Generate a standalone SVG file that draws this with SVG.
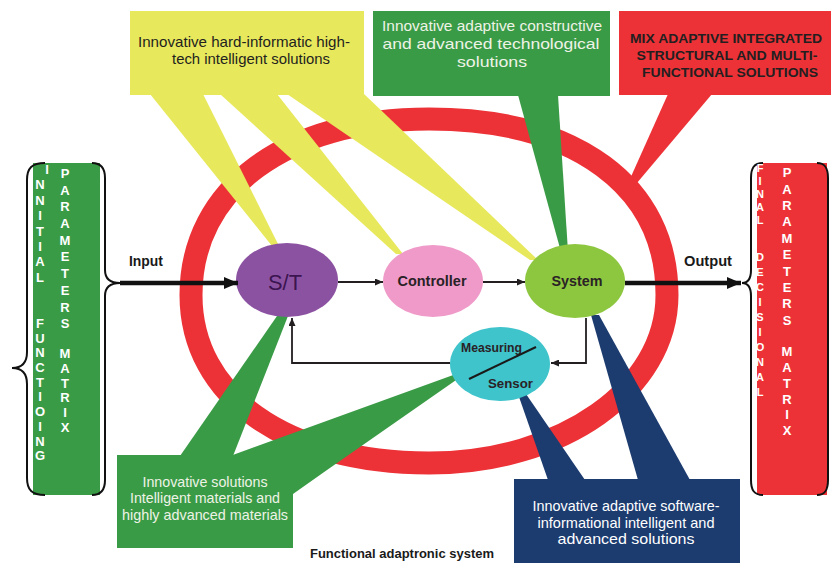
<svg xmlns="http://www.w3.org/2000/svg" width="831" height="563" viewBox="0 0 831 563">
  <defs>
    <style>
      text { font-family: "Liberation Sans", Arial, sans-serif; }
      .ring { fill: none; stroke: #ed3237; stroke-width: 23; }
      .yellow { fill: #e8e85c; }
      .green { fill: #3a9b46; }
      .red { fill: #ed3237; }
      .navy { fill: #1c3b6f; }
      .dark { fill: #231f20; }
      .light { fill: #eef3e6; }
      .white { fill: #ffffff; }
      .callout { font-size: 15px; }
      .caps { font-size: 13px; font-weight: bold; }
      .node { font-size: 15px; font-weight: bold; fill: #2a2226; }
      .wire { fill: none; stroke: #231f20; stroke-width: 1.8; }
      .thick { fill: none; stroke: #111111; stroke-width: 4.5; }
      .brace { fill: none; stroke: #111111; stroke-width: 2; }
      .col { font-size: 13px; font-weight: bold; fill: #ffffff; text-anchor: middle; }
      .colsm { font-size: 11px; font-weight: bold; fill: #ffffff; text-anchor: middle; }
    </style>
    <marker id="arrow" viewBox="0 0 8 7" refX="8" refY="3.5" markerWidth="8" markerHeight="7" markerUnits="userSpaceOnUse" orient="auto">
      <path d="M0,0 L8,3.5 L0,7 z" fill="#231f20"/>
    </marker>
    <marker id="arrowBig" viewBox="0 0 14 12" refX="14" refY="6" markerWidth="14" markerHeight="12" markerUnits="userSpaceOnUse" orient="auto">
      <path d="M0,0 L14,6 L0,12 z" fill="#111111"/>
    </marker>
  </defs>

  <rect width="831" height="563" fill="#ffffff"/>

  <!-- outer red ring of the adaptronic system -->
  <path id="ring" class="ring" d="M429,119 C576,119 667,186 667,295 C667,389 562,463 429,463 C286,463 191,396 191,295 C191,189 286,119 429,119 Z"/>

  <!-- callout: hard-informatic solutions (yellow, three pointers) -->
  <g id="callout-hard">
    <rect class="yellow" x="130" y="11" width="234" height="84"/>
    <polygon class="yellow" points="150,94 203,94 279,246 272,246"/>
    <polygon class="yellow" points="220,94 277,94 403,254 396,254"/>
    <polygon class="yellow" points="287,94 364,94 538,260 530,260"/>
    <text class="callout dark" text-anchor="middle" x="244" y="47" textLength="212" lengthAdjust="spacingAndGlyphs">Innovative hard-informatic high-</text>
    <text class="callout dark" text-anchor="middle" x="251" y="64" textLength="158" lengthAdjust="spacingAndGlyphs">tech intelligent solutions</text>
  </g>

  <!-- callout: constructive / technological solutions (green, top) -->
  <g id="callout-constructive">
    <rect class="green" x="373" y="11" width="237" height="85"/>
    <polygon class="green" points="518,95 558,95 568,252 561,252"/>
    <text class="callout light" text-anchor="middle" x="492" y="31" textLength="220" lengthAdjust="spacingAndGlyphs">Innovative adaptive constructive</text>
    <text class="callout light" text-anchor="middle" x="491" y="49" textLength="217" lengthAdjust="spacingAndGlyphs">and advanced technological</text>
    <text class="callout light" text-anchor="middle" x="492" y="67" textLength="70" lengthAdjust="spacingAndGlyphs">solutions</text>
  </g>

  <!-- callout: mixed integrated solutions (red, top right) -->
  <g id="callout-mix">
    <rect class="red" x="619" y="11" width="212" height="84"/>
    <polygon class="red" points="668,94 712,94 631,190 625,190"/>
    <text class="caps dark" text-anchor="middle" x="726" y="43" textLength="192" lengthAdjust="spacingAndGlyphs">MIX ADAPTIVE INTEGRATED</text>
    <text class="caps dark" text-anchor="middle" x="727" y="60" textLength="181" lengthAdjust="spacingAndGlyphs">STRUCTURAL AND MULTI-</text>
    <text class="caps dark" text-anchor="middle" x="730" y="77" textLength="176" lengthAdjust="spacingAndGlyphs">FUNCTIONAL SOLUTIONS</text>
  </g>

  <!-- callout: intelligent materials (green, bottom left) -->
  <g id="callout-materials">
    <rect class="green" x="117" y="455" width="176" height="93"/>
    <polygon class="green" points="180,456 277,316 288,316 233,456"/>
    <polygon class="green" points="230,456 456,374 459,378 327,470 293,494 293,456"/>
    <text class="callout light" text-anchor="middle" x="205" y="487" textLength="125" lengthAdjust="spacingAndGlyphs">Innovative solutions</text>
    <text class="callout light" text-anchor="middle" x="205" y="503" textLength="150" lengthAdjust="spacingAndGlyphs">Intelligent materials and</text>
    <text class="callout light" text-anchor="middle" x="205" y="520" textLength="166" lengthAdjust="spacingAndGlyphs">highly advanced materials</text>
  </g>

  <!-- callout: software-informational solutions (navy, bottom right) -->
  <g id="callout-software">
    <rect class="navy" x="514" y="479" width="226" height="84"/>
    <polygon class="navy" points="518,394 526,394 585,480 548,480"/>
    <polygon class="navy" points="591,315 599,315 690,480 638,480"/>
    <text class="callout white" text-anchor="middle" x="626" y="511" textLength="187" lengthAdjust="spacingAndGlyphs">Innovative adaptive software-</text>
    <text class="callout white" text-anchor="middle" x="626" y="528" textLength="177" lengthAdjust="spacingAndGlyphs">informational intelligent and</text>
    <text class="callout white" text-anchor="middle" x="626" y="544" textLength="137" lengthAdjust="spacingAndGlyphs">advanced solutions</text>
  </g>

  <!-- input parameters matrix -->
  <g id="matrix-input">
    <rect class="green" x="33" y="163" width="67" height="332"/>
    <path class="brace" d="M45,163 C32,163 27,168 27,180 L27,352 C27,362 22,368 12,368 C22,368 27,374 27,384 L27,478 C27,490 32,495 45,495"/>
    <path class="brace" d="M92,163 C101,163 105,168 105,178 L105,270 C105,278 110,283 120,283 C110,283 105,288 105,296 L105,480 C105,490 101,495 92,495"/>
    <text class="col"><tspan x="47" y="174">I</tspan><tspan x="40" y="189">N</tspan><tspan x="40" y="205">N</tspan><tspan x="40" y="220">I</tspan><tspan x="40" y="236">T</tspan><tspan x="40" y="251">I</tspan><tspan x="40" y="266">A</tspan><tspan x="40" y="282">L</tspan><tspan x="40" y="328">F</tspan><tspan x="40" y="343">U</tspan><tspan x="40" y="357">N</tspan><tspan x="40" y="372">C</tspan><tspan x="40" y="387">T</tspan><tspan x="40" y="401">I</tspan><tspan x="40" y="416">O</tspan><tspan x="40" y="431">I</tspan><tspan x="40" y="446">N</tspan><tspan x="40" y="460">G</tspan></text>
    <text class="col"><tspan x="65" y="178">P</tspan><tspan x="65" y="195">A</tspan><tspan x="65" y="211">R</tspan><tspan x="65" y="228">A</tspan><tspan x="65" y="245">M</tspan><tspan x="65" y="261">E</tspan><tspan x="65" y="278">T</tspan><tspan x="65" y="295">E</tspan><tspan x="65" y="312">R</tspan><tspan x="65" y="328">S</tspan><tspan x="65" y="358">M</tspan><tspan x="65" y="373">A</tspan><tspan x="65" y="388">T</tspan><tspan x="65" y="402">R</tspan><tspan x="65" y="417">I</tspan><tspan x="65" y="432">X</tspan></text>
  </g>

  <!-- output parameters matrix -->
  <g id="matrix-output">
    <rect class="red" x="757" y="163" width="70" height="332"/>
    <path class="brace" d="M763,163 C754,163 751,168 751,178 L751,270 C751,278 748,283 742,283 C748,283 751,288 751,296 L751,480 C751,490 754,495 763,495"/>
    <path class="brace" d="M817,163 C825,163 828,168 828,178 L828,480 C828,490 825,495 817,495"/>
    <text class="colsm"><tspan x="760" y="172">F</tspan><tspan x="760" y="185">I</tspan><tspan x="760" y="198">N</tspan><tspan x="760" y="211">A</tspan><tspan x="760" y="224">L</tspan><tspan x="760" y="261">D</tspan><tspan x="760" y="276">E</tspan><tspan x="760" y="291">C</tspan><tspan x="760" y="306">I</tspan><tspan x="760" y="321">S</tspan><tspan x="760" y="336">I</tspan><tspan x="760" y="351">O</tspan><tspan x="760" y="366">N</tspan><tspan x="760" y="381">A</tspan><tspan x="760" y="396">L</tspan></text>
    <text class="col"><tspan x="787" y="177">P</tspan><tspan x="787" y="194">A</tspan><tspan x="787" y="210">R</tspan><tspan x="787" y="226">A</tspan><tspan x="787" y="243">M</tspan><tspan x="787" y="259">E</tspan><tspan x="787" y="276">T</tspan><tspan x="787" y="292">E</tspan><tspan x="787" y="308">R</tspan><tspan x="787" y="325">S</tspan><tspan x="787" y="356">M</tspan><tspan x="787" y="372">A</tspan><tspan x="787" y="388">T</tspan><tspan x="787" y="404">R</tspan><tspan x="787" y="419">I</tspan><tspan x="787" y="435">X</tspan></text>
  </g>

  <!-- process nodes -->
  <g id="node-st">
    <ellipse cx="287" cy="280" rx="51" ry="37" fill="#8c52a2"/>
    <text x="285" y="290" font-size="22" text-anchor="middle" fill="#3b1450" textLength="34" lengthAdjust="spacingAndGlyphs">S/T</text>
  </g>
  <g id="node-controller">
    <ellipse cx="433" cy="281" rx="50" ry="36" fill="#ef9ac8"/>
    <text class="node" x="432" y="286" text-anchor="middle" textLength="69" lengthAdjust="spacingAndGlyphs">Controller</text>
  </g>
  <g id="node-system">
    <ellipse cx="575" cy="281" rx="50" ry="37" fill="#8dc63f"/>
    <text class="node" x="577" y="286" text-anchor="middle" textLength="51" lengthAdjust="spacingAndGlyphs">System</text>
  </g>
  <g id="node-sensor">
    <ellipse cx="500" cy="364" rx="50" ry="37" fill="#3fc4cb"/>
    <text x="461" y="352" font-size="12" font-weight="bold" fill="#2a2226" textLength="61" lengthAdjust="spacingAndGlyphs">Measuring</text>
    <text x="488" y="388" font-size="13" font-weight="bold" fill="#2a2226" textLength="45" lengthAdjust="spacingAndGlyphs">Sensor</text>
    <line x1="469" y1="379" x2="536" y2="347" stroke="#1a1a1a" stroke-width="2"/>
  </g>

  <!-- signal connectors -->
  <g id="connectors">
    <path class="thick" d="M120,283 H238" marker-end="url(#arrowBig)"/>
    <path class="thick" d="M625,283 H741" marker-end="url(#arrowBig)"/>
    <path class="wire" d="M338,282 H383" marker-end="url(#arrow)"/>
    <path class="wire" d="M483,282 H525" marker-end="url(#arrow)"/>
    <path class="wire" d="M586,318 V363 H551" marker-end="url(#arrow)"/>
    <path class="wire" d="M450,363 H292 V318" marker-end="url(#arrow)"/>
  </g>

  <g id="labels">
    <text x="129" y="266" font-size="14" font-weight="bold" fill="#1a1a1a" textLength="34" lengthAdjust="spacingAndGlyphs">Input</text>
    <text x="684" y="266" font-size="14" font-weight="bold" fill="#1a1a1a" textLength="48" lengthAdjust="spacingAndGlyphs">Output</text>
    <text x="310" y="558" font-size="13" font-weight="bold" fill="#1a1a1a" textLength="184" lengthAdjust="spacingAndGlyphs">Functional adaptronic system</text>
  </g>
</svg>
